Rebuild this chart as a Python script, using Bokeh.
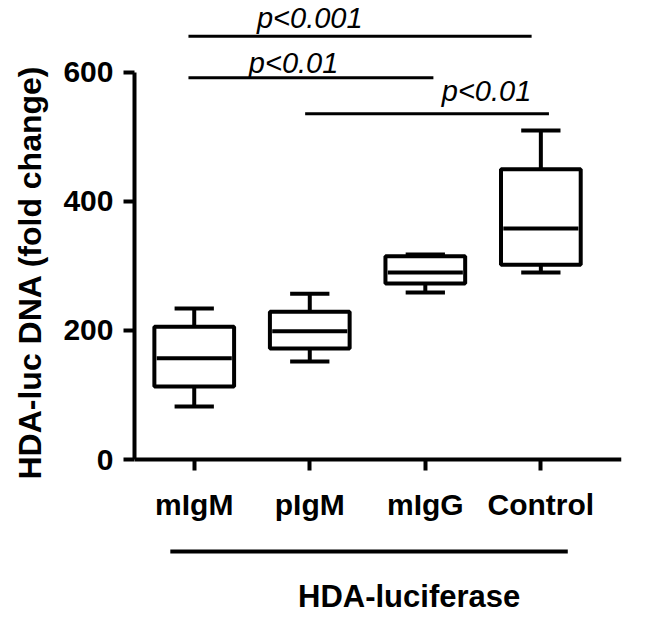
from bokeh.plotting import figure
from bokeh.models import Range1d, FixedTicker, Title
from bokeh.core.properties import value
from bokeh.embed import file_html
from bokeh.resources import INLINE

# ---- data ----
categories = ["mIgM", "pIgM", "mIgG", "Control"]
whisker_low = [82, 152, 259, 290]
q1 = [113, 172, 273, 302]
median = [157, 199, 290, 358]
q3 = [206, 229, 315, 450]
whisker_high = [234, 257, 318, 510]
y_ticks = [0, 200, 400, 600]

# significance comparisons: (group a, group b), bar height, label
comp_from = [1, 1, 2]
comp_to = [4, 3, 4]
comp_height = [656, 592, 536]
comp_label = ["p<0.001", "p<0.01", "p<0.01"]

group_title = "HDA-luciferase"
y_label = "HDA-luc DNA (fold change)"

FONT = "Liberation Sans"

xs = list(range(1, len(categories) + 1))

p = figure(width=650, height=618, output_backend="svg", toolbar_location=None,
           x_range=Range1d(0.483, 4.698), y_range=Range1d(-246.5, 711.6),
           min_border_left=132, min_border_right=29, min_border_top=0, min_border_bottom=0)
p.grid.visible = False
p.outline_line_color = None
p.background_fill_color = "white"

# boxes
box_w = 0.69
cap_w = 0.34
p.quad(left=[x - box_w / 2 for x in xs], right=[x + box_w / 2 for x in xs],
       bottom=q1, top=q3, fill_color="white", line_color="black", line_width=4)
p.segment(x0=[x - box_w / 2 + 0.02 for x in xs], x1=[x + box_w / 2 - 0.02 for x in xs],
          y0=median, y1=median, line_color="black", line_width=4)
# whiskers
p.segment(x0=xs, x1=xs, y0=q3, y1=whisker_high, line_color="black", line_width=4)
p.segment(x0=xs, x1=xs, y0=q1, y1=whisker_low, line_color="black", line_width=4)
p.segment(x0=[x - cap_w / 2 for x in xs], x1=[x + cap_w / 2 for x in xs],
          y0=whisker_high, y1=whisker_high, line_color="black", line_width=4)
p.segment(x0=[x - cap_w / 2 for x in xs], x1=[x + cap_w / 2 for x in xs],
          y0=whisker_low, y1=whisker_low, line_color="black", line_width=4)

# significance bars
start_off = [-0.05, -0.05, -0.04]
end_off = [-0.08, 0.07, 0.07]
p.segment(x0=[a + o for a, o in zip(comp_from, start_off)],
          x1=[b + o for b, o in zip(comp_to, end_off)],
          y0=comp_height, y1=comp_height, line_color="black", line_width=3)
label_x = [2.0, 1.86, 3.53]
label_y = [comp_height[0] + 28, comp_height[1] + 22, comp_height[2] + 36]
p.text(x=label_x, y=label_y, text=comp_label, text_font=value(FONT),
       text_font_style="italic", text_font_size="29px", text_align="center",
       text_baseline="middle", text_color="black")

# group bar and title below the axis
p.segment(x0=[0.793], x1=[4.233], y0=[-142.6], y1=[-142.6], line_color="black", line_width=4)
p.text(x=[2.86], y=[-212.4], text=[group_title], text_font=value(FONT),
       text_font_style="bold", text_font_size="31px", text_align="center",
       text_baseline="middle", text_color="black")

# y axis
ya = p.yaxis[0]
ya.ticker = FixedTicker(ticks=y_ticks)
ya.bounds = (0, 600)
ya.axis_line_width = 4
ya.major_tick_line_width = 4
ya.major_tick_out = 11
ya.major_tick_in = 0
ya.minor_tick_line_color = None
ya.major_label_text_font = FONT
ya.major_label_text_font_style = "bold"
ya.major_label_text_font_size = "30px"
ya.major_label_text_color = "black"
ya.major_label_standoff = 10

# y axis title on the left side, shifted to sit beside the axis middle
p.add_layout(Title(text=y_label, align="left", offset=139, standoff=22,
                   vertical_align="top",
                   text_font=FONT, text_font_style="bold", text_font_size="32px",
                   text_color="black"), "left")

# x axis at y = 0
xa = p.xaxis[0]
xa.fixed_location = 0
xa.ticker = FixedTicker(ticks=xs)
xa.major_label_overrides = {x: c for x, c in zip(xs, categories)}
xa.axis_line_width = 4
xa.major_tick_line_width = 4
xa.major_tick_out = 11
xa.major_tick_in = 0
xa.minor_tick_line_color = None
xa.major_label_text_font = FONT
xa.major_label_text_font_style = "bold"
xa.major_label_text_font_size = "30px"
xa.major_label_text_color = "black"
xa.major_label_standoff = 17

open("out.html", "w").write(file_html(p, INLINE))
